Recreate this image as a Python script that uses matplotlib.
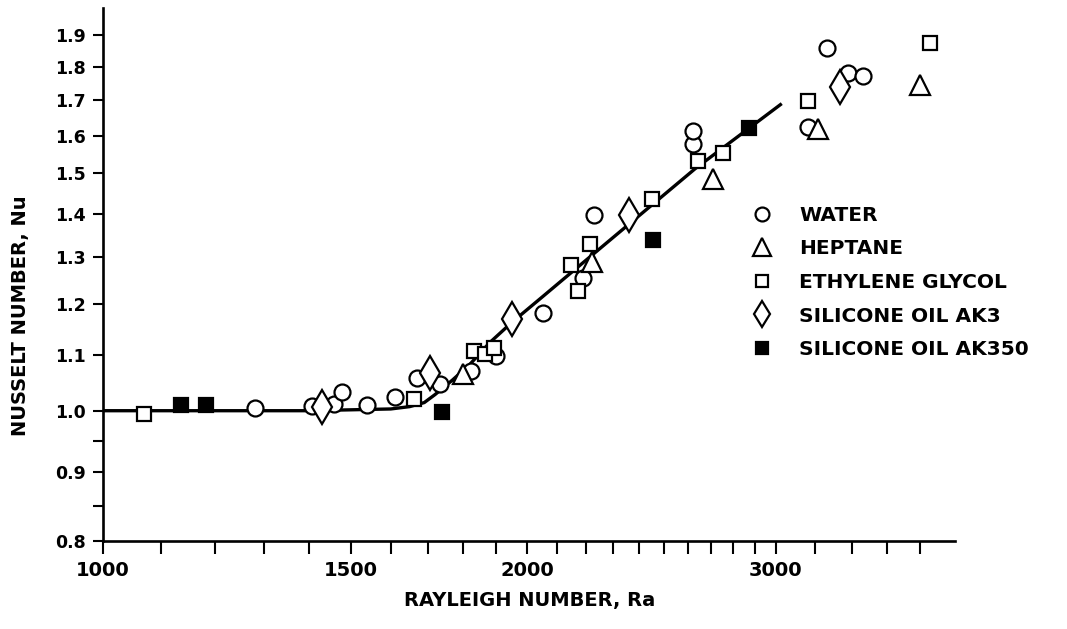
import matplotlib
matplotlib.use("Agg")
import matplotlib.pyplot as plt
from matplotlib.ticker import FixedLocator, FixedFormatter, NullLocator

# ---------------- data ----------------
water_ra = [1282, 1407, 1458, 1478, 1539, 1612, 1669, 1733, 1823, 1900, 2053,
            2190, 2230, 2622, 2623, 3165, 3261, 3377, 3460]
water_nu = [1.004, 1.008, 1.012, 1.033, 1.009, 1.024, 1.057, 1.047, 1.071, 1.098,
            1.182, 1.255, 1.398, 1.578, 1.614, 1.623, 1.860, 1.781, 1.771]

heptane_ra = [1799, 2223, 2706, 3217, 3797]
heptane_nu = [1.064, 1.290, 1.486, 1.617, 1.746]

glycol_ra = [1069, 1663, 1833, 1866, 1894, 2148, 2172, 2217, 2453, 2642, 2753,
             3162, 3857]
glycol_nu = [0.995, 1.020, 1.108, 1.102, 1.113, 1.282, 1.228, 1.330, 1.436,
             1.532, 1.552, 1.697, 1.873]

ak3_ra = [1430, 1707, 1949, 2361, 3332]
ak3_nu = [1.007, 1.066, 1.170, 1.398, 1.739]

ak350_ra = [1136, 1183, 1740, 2454, 2873]
ak350_nu = [1.009, 1.010, 0.998, 1.339, 1.621]

curve_ra = [1000, 1400, 1600, 1650, 1690, 1720, 1770, 1820, 1880, 1950, 2050,
            2150, 2630, 3030]
curve_nu = [1.0, 1.0, 1.003, 1.007, 1.014, 1.028, 1.054, 1.082, 1.123, 1.163,
            1.215, 1.267, 1.512, 1.69]

x_ticks = [1000, 1100, 1200, 1300, 1400, 1500, 1600, 1700, 1800, 1900, 2000,
           2100, 2200, 2300, 2400, 2500, 2600, 2700, 2800, 2900, 3000,
           3200, 3400, 3600, 3800]
x_tick_labels = {1000: "1000", 1500: "1500", 2000: "2000", 3000: "3000"}
y_ticks = [0.8, 0.9, 1.0, 1.1, 1.2, 1.3, 1.4, 1.5, 1.6, 1.7, 1.8, 1.9]
y_minor_ticks = [0.85, 0.95]

labels = ["WATER", "HEPTANE", "ETHYLENE GLYCOL", "SILICONE OIL AK3",
          "SILICONE OIL AK350"]

# ---------------- figure ----------------
plt.rcParams["font.family"] = ["DejaVu Sans"]
plt.rcParams["font.weight"] = "bold"

fig = plt.figure(figsize=(10.67, 6.29), dpi=100)
ax = fig.add_axes([103 / 1067, 1 - 541.3 / 629, 852 / 1067, 533.3 / 629])
ax.set_xscale("log")
ax.set_yscale("log")
ax.set_xlim(1000, 4021)
ax.set_ylim(0.8, 1.99)

ax.plot(curve_ra, curve_nu, color="black", lw=2.4, zorder=2,
        solid_capstyle="butt")

common = dict(linestyle="none", markeredgecolor="black", markeredgewidth=1.6,
              zorder=3)
h1, = ax.plot(water_ra, water_nu, marker="o", markersize=11.5,
              markerfacecolor="white", label=labels[0], **common)
h2, = ax.plot(heptane_ra, heptane_nu, marker="^", markersize=15,
              markerfacecolor="white", label=labels[1], **common)
h3, = ax.plot(glycol_ra, glycol_nu, marker="s", markersize=10,
              markerfacecolor="white", label=labels[2], **common)
h4, = ax.plot(ak3_ra, ak3_nu, marker="d", markersize=17,
              markerfacecolor="white", label=labels[3], **common)
h5, = ax.plot(ak350_ra, ak350_nu, marker="s", markersize=9.5,
              markerfacecolor="black", label=labels[4], **common)

# spines
for s in ("top", "right"):
    ax.spines[s].set_visible(False)
for s in ("left", "bottom"):
    ax.spines[s].set_linewidth(1.9)

# ticks
ax.xaxis.set_major_locator(FixedLocator(x_ticks))
ax.xaxis.set_major_formatter(FixedFormatter([x_tick_labels.get(t, "") for t in x_ticks]))
ax.xaxis.set_minor_locator(NullLocator())
ax.yaxis.set_major_locator(FixedLocator(y_ticks))
ax.yaxis.set_major_formatter(FixedFormatter([f"{v:.1f}" for v in y_ticks]))
ax.yaxis.set_minor_locator(FixedLocator(y_minor_ticks))
ax.yaxis.set_minor_formatter(FixedFormatter(["" for _ in y_minor_ticks]))

ax.tick_params(axis="x", which="major", direction="out", length=9.5, width=1.5,
               pad=5, labelsize=14)
ax.tick_params(axis="y", which="both", direction="out", length=7.5, width=1.5,
               pad=5, labelsize=12.5)
for lab in ax.get_xticklabels() + ax.get_yticklabels():
    lab.set_fontweight("bold")

ax.set_xlabel("RAYLEIGH NUMBER, Ra", fontsize=14, fontweight="bold")
ax.set_ylabel("NUSSELT NUMBER, Nu", fontsize=14, fontweight="bold")
ax.xaxis.set_label_coords((530 - 103) / 852, -(591 - 541.3) / 533.3)
ax.yaxis.set_label_coords(-(103 - 30) / 852, (541.3 - 316) / 533.3)

leg = ax.legend(handles=[h1, h2, h3, h4, h5], loc="upper left",
                bbox_to_anchor=(752 / 1067, 1 - 206 / 629),
                bbox_transform=fig.transFigure, frameon=False,
                prop={"size": 14.5, "weight": "bold"}, handlelength=1.0,
                handletextpad=1.35, labelspacing=0.72, borderpad=0,
                borderaxespad=0, numpoints=1)
for hnd, ms in zip(leg.legend_handles, [10, 12.5, 8.8, 13, 8.5]):
    hnd.set_markersize(ms)

fig.savefig("out.png", dpi=100, facecolor="white")
